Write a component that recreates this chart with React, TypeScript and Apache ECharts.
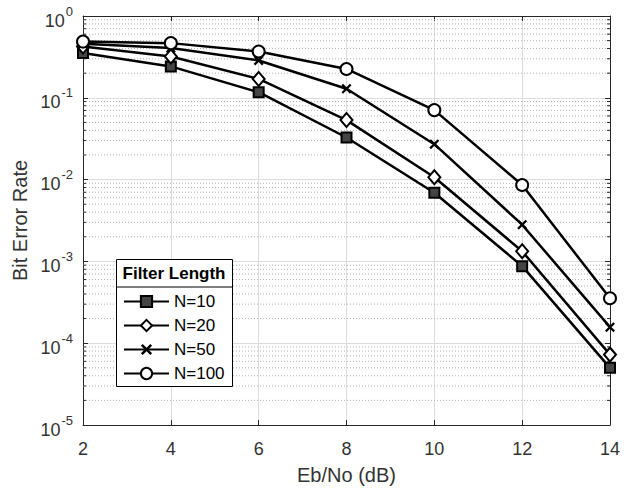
import React, { useEffect, useRef } from "react";
import * as echarts from "echarts";

const ebNo = [2, 4, 6, 8, 10, 12, 14];
const berN10 = [0.352, 0.242, 0.117, 0.0327, 0.0069, 0.000875, 0.00005];
const berN20 = [0.424, 0.32, 0.17, 0.0534, 0.0107, 0.00133, 0.0000725];
const berN50 = [0.457, 0.405, 0.286, 0.129, 0.0271, 0.00281, 0.000157];
const berN100 = [0.487, 0.466, 0.368, 0.225, 0.0707, 0.0086, 0.000354];
const seriesNames = ["N=10", "N=20", "N=50", "N=100"];
const xTicks = [2, 4, 6, 8, 10, 12, 14];
const decades = [-5, -4, -3, -2, -1];
const minorMultipliers = [2, 3, 4, 5, 6, 7, 8, 9];

const FONT = "'Liberation Sans', Arial, Helvetica, sans-serif";
const TEXT = "#333333";
const AXIS = "#262626";

export default function App() {
  const ref = useRef<HTMLDivElement>(null);

  useEffect(() => {
    if (!ref.current) return;
    const chart = echarts.init(ref.current, undefined, { renderer: "svg" });

    const minorValues: number[][] = [];
    decades.forEach((e) =>
      minorMultipliers.forEach((m) => minorValues.push([xTicks[0], m * Math.pow(10, e)]))
    );

    const mk = (name: string, values: number[], symbol: string, size: any, fill: string, bw: number) => ({
      name,
      type: "line",
      data: ebNo.map((x, i) => [x, values[i]]),
      symbol,
      symbolSize: size,
      showSymbol: true,
      lineStyle: { color: "#000", width: 2.5 },
      itemStyle: { color: fill, borderColor: "#000", borderWidth: bw },
      z: 5,
    });

    const crossPath =
      "path://M0,1.6 L1.6,0 L5,3.4 L8.4,0 L10,1.6 L6.6,5 L10,8.4 L8.4,10 L5,6.6 L1.6,10 L0,8.4 L3.4,5 Z";

    const supLabel = (v: number) => {
      const e = Math.round(Math.log10(v));
      return `{b|10}{s|${e}}`;
    };

    const rich = {
      b: { fontSize: 18, fontFamily: FONT, color: TEXT, verticalAlign: "bottom", lineHeight: 27 },
      s: { fontSize: 13, fontFamily: FONT, color: TEXT, verticalAlign: "top", padding: [2, 0, 0, 1] },
    };

    chart.setOption({
      animation: false,
      backgroundColor: "#fff",
      grid: { left: 83, right: 21, top: 16, bottom: 63, containLabel: false },
      xAxis: [
        {
          type: "value",
          min: 2,
          max: 14,
          interval: 2,
          name: "Eb/No (dB)",
          nameLocation: "middle",
          nameGap: 40,
          nameTextStyle: { fontSize: 20, fontFamily: FONT, color: TEXT },
          axisLine: { show: true, lineStyle: { color: AXIS, width: 1 } },
          axisTick: { show: true, inside: true, length: 5, lineStyle: { color: AXIS } },
          axisLabel: { fontSize: 18, fontFamily: FONT, color: TEXT, margin: 15 },
          splitLine: { show: true, lineStyle: { color: "#dcdcdc", width: 1 } },
        },
        {
          type: "value",
          position: "top",
          min: 2,
          max: 14,
          interval: 2,
          axisLine: { show: true, onZero: false, lineStyle: { color: AXIS, width: 1 } },
          axisTick: { show: true, inside: true, length: 5, lineStyle: { color: AXIS } },
          axisLabel: { show: false },
          splitLine: { show: false },
        },
      ],
      yAxis: [
        {
          type: "log",
          logBase: 10,
          min: 1e-5,
          max: 1,
          name: "Bit Error Rate",
          nameLocation: "middle",
          nameGap: 50,
          nameTextStyle: { fontSize: 20, fontFamily: FONT, color: TEXT },
          axisLine: { show: true, lineStyle: { color: AXIS, width: 1 } },
          axisTick: { show: true, inside: true, length: 5, lineStyle: { color: AXIS } },
          axisLabel: { formatter: supLabel, rich, margin: 10 },
          splitLine: { show: true, lineStyle: { color: "#dcdcdc", width: 1 } },
        },
        {
          type: "log",
          logBase: 10,
          min: 1e-5,
          max: 1,
          position: "right",
          axisLine: { show: true, onZero: false, lineStyle: { color: AXIS, width: 1 } },
          axisTick: { show: true, inside: true, length: 5, lineStyle: { color: AXIS } },
          axisLabel: { show: false },
          splitLine: { show: false },
        },
      ],
      legend: {
        data: seriesNames,
        orient: "vertical",
        left: 116,
        top: 259,
        padding: [34, 6, 6, 7],
        itemWidth: 45,
        itemHeight: 14,
        itemGap: 7,
        textStyle: { fontSize: 17, fontFamily: FONT, color: "#000" },
        z: 10,
      },
      graphic: [
        {
          type: "rect",
          left: 116,
          top: 259,
          shape: { width: 116, height: 127 },
          style: { fill: "#fff", stroke: "#000", lineWidth: 1 },
          z: 8,
        },
        {
          type: "line",
          shape: { x1: 116, y1: 287, x2: 232, y2: 287 },
          style: { stroke: "#000", lineWidth: 1 },
          z: 9,
        },
        {
          type: "text",
          x: 174,
          y: 273,
          style: {
            text: "Filter Length",
            fontSize: 17,
            fontWeight: "bold",
            fontFamily: FONT,
            fill: "#000",
            align: "center",
            verticalAlign: "middle",
          },
          z: 9,
        },
      ],
      series: [
        {
          name: "minor",
          type: "custom",
          silent: true,
          data: minorValues,
          encode: { x: 0, y: 1 },
          z: 1,
          renderItem: (params: any, api: any) => {
            const v = api.value(1);
            const y = api.coord([xTicks[0], v])[1];
            const cs = params.coordSys;
            return {
              type: "group",
              children: [
                {
                  type: "line",
                  shape: { x1: cs.x, y1: y, x2: cs.x + cs.width, y2: y },
                  style: { stroke: "#b4b4b4", lineWidth: 1, lineDash: [1, 2] },
                },
                {
                  type: "line",
                  shape: { x1: cs.x, y1: y, x2: cs.x + 3, y2: y },
                  style: { stroke: AXIS, lineWidth: 1 },
                },
                {
                  type: "line",
                  shape: { x1: cs.x + cs.width - 3, y1: y, x2: cs.x + cs.width, y2: y },
                  style: { stroke: AXIS, lineWidth: 1 },
                },
              ],
            };
          },
        },
        mk(seriesNames[0], berN10, "rect", 10, "#444", 2),
        mk(seriesNames[1], berN20, "diamond", [12, 14], "#fff", 2),
        mk(seriesNames[2], berN50, crossPath, 10, "#000", 0),
        mk(seriesNames[3], berN100, "circle", 12, "#fff", 2),
      ],
    });

    return () => chart.dispose();
  }, []);

  return (
    <div
      ref={ref}
      style={{ position: "fixed", left: 0, top: 0, width: 631, height: 490, background: "#fff" }}
    />
  );
}
